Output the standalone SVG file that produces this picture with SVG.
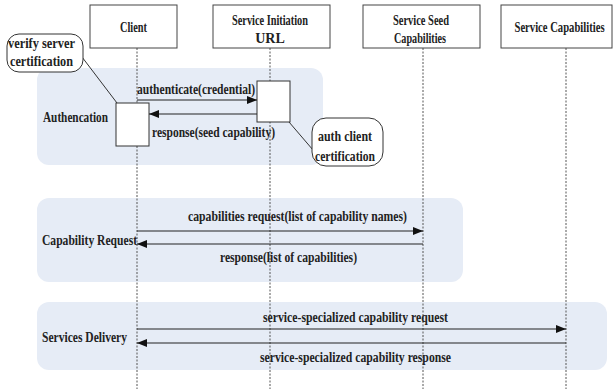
<svg xmlns="http://www.w3.org/2000/svg" width="613" height="389" viewBox="0 0 613 389">
<defs>
<style>
text{font-family:'Liberation Serif',serif;font-weight:bold;font-size:14px;fill:#222}
.hdr{fill:#fff;stroke:#444;stroke-width:1}
.band{fill:#E6ECF6}
.life{stroke:#555;stroke-width:1;stroke-dasharray:2,1.5}
.act{fill:#fff;stroke:#333;stroke-width:1}
.msg{stroke:#222;stroke-width:1.2;fill:none}
.note{fill:#fff;stroke:#333;stroke-width:1}
.lead{stroke:#333;stroke-width:1}
</style>
<marker id="ah" viewBox="0 0 10 8" refX="10" refY="4" markerWidth="11" markerHeight="8" markerUnits="userSpaceOnUse" orient="auto">
<path d="M0,0 L10,4 L0,8 Z" fill="#111"/>
</marker>
</defs>
<rect width="613" height="389" fill="#fff"/>
<g id="bands" font-family="Liberation Serif">
<rect class="band" x="37" y="68" width="286" height="97" rx="12"/>
<rect class="band" x="37" y="198" width="426" height="84" rx="12"/>
<rect class="band" x="37" y="302" width="570" height="68" rx="12"/>
<text x="43" y="122" textLength="65" lengthAdjust="spacingAndGlyphs">Authencation</text>
<text x="42" y="245" textLength="95" lengthAdjust="spacingAndGlyphs">Capability Request</text>
<text x="42" y="342" textLength="85" lengthAdjust="spacingAndGlyphs">Services Delivery</text>
</g>
<g id="lifelines">
<line class="life" x1="137" y1="48" x2="137" y2="389"/>
<line class="life" x1="270" y1="48" x2="270" y2="389"/>
<line class="life" x1="423" y1="48" x2="423" y2="389"/>
<line class="life" x1="566" y1="48" x2="566" y2="389"/>
</g>
<g id="client" font-family="Liberation Serif">
<rect class="hdr" x="90" y="5" width="87" height="43"/>
<text x="120" y="32" textLength="27" lengthAdjust="spacingAndGlyphs">Client</text>
</g>
<g id="initiation" font-family="Liberation Serif">
<rect class="hdr" x="213" y="5" width="117" height="43"/>
<text x="232" y="25" textLength="76" lengthAdjust="spacingAndGlyphs">Service Initiation</text>
<text x="270" y="43" text-anchor="middle">URL</text>
</g>
<g id="seed" font-family="Liberation Serif">
<rect class="hdr" x="363" y="5" width="117" height="43"/>
<text x="393" y="25" textLength="56" lengthAdjust="spacingAndGlyphs">Service Seed</text>
<text x="394" y="43" textLength="52" lengthAdjust="spacingAndGlyphs">Capabilities</text>
</g>
<g id="capabilities" font-family="Liberation Serif">
<rect class="hdr" x="501" y="5" width="111" height="43"/>
<text transform="translate(559.5,32) scale(0.76,1)" x="0" y="0" text-anchor="middle">Service Capabilities</text>
</g>
<g id="client-activation">
<rect class="act" x="116" y="103" width="33" height="43"/>
</g>
<g id="init-activation">
<rect class="act" x="257" y="81" width="33" height="41"/>
</g>
<g id="verify-note" font-family="Liberation Serif">
<line class="lead" x1="82" y1="57" x2="117" y2="103"/>
<rect class="note" x="7" y="34" width="76" height="38" rx="12"/>
<text x="8" y="48" textLength="67" lengthAdjust="spacingAndGlyphs">verify server</text>
<text x="10" y="66" textLength="63" lengthAdjust="spacingAndGlyphs">certification</text>
</g>
<g id="auth-note" font-family="Liberation Serif">
<line class="lead" x1="289" y1="122" x2="313" y2="150"/>
<rect class="note" x="312" y="118" width="71" height="48" rx="14"/>
<text x="318" y="141" textLength="54" lengthAdjust="spacingAndGlyphs">auth client</text>
<text x="315" y="161" textLength="60" lengthAdjust="spacingAndGlyphs">certification</text>
</g>
<g id="connectors" font-family="Liberation Serif">
<line class="msg" x1="137" y1="100" x2="257" y2="100" marker-end="url(#ah)"/>
<line class="msg" x1="257" y1="114" x2="149" y2="114" marker-end="url(#ah)"/>
<line class="msg" x1="137" y1="231" x2="423" y2="231" marker-end="url(#ah)"/>
<line class="msg" x1="423" y1="244" x2="137" y2="244" marker-end="url(#ah)"/>
<line class="msg" x1="137" y1="329" x2="566" y2="329" marker-end="url(#ah)"/>
<line class="msg" x1="566" y1="343" x2="137" y2="343" marker-end="url(#ah)"/>
<text x="137" y="94" textLength="118" lengthAdjust="spacingAndGlyphs">authenticate(credential)</text>
<text x="152" y="137" textLength="123" lengthAdjust="spacingAndGlyphs">response(seed capability)</text>
<text x="188" y="221" textLength="219" lengthAdjust="spacingAndGlyphs">capabilities request(list of capability names)</text>
<text x="220" y="262" textLength="137" lengthAdjust="spacingAndGlyphs">response(list of capabilities)</text>
<text x="263" y="322" textLength="185" lengthAdjust="spacingAndGlyphs">service-specialized capability request</text>
<text x="260" y="362" textLength="191" lengthAdjust="spacingAndGlyphs">service-specialized capability response</text>
</g>
</svg>
